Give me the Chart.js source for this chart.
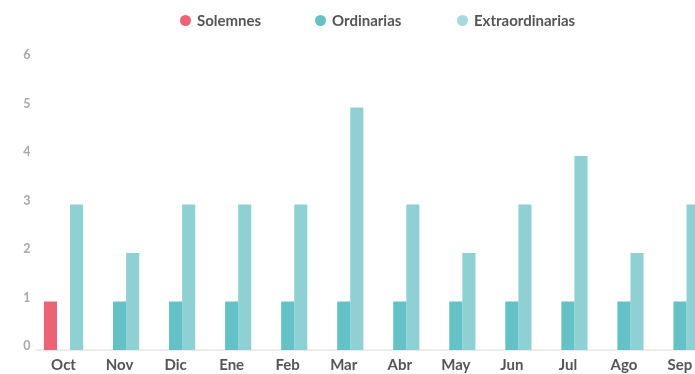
<!DOCTYPE html>
<html>
<head>
<meta charset="utf-8">
<script src="https://cdn.jsdelivr.net/npm/chart.js@4/dist/chart.umd.min.js"></script>
<style>
	html, body {
		margin: 0;
		padding: 0;
		width: 695px;
		height: 374px;
		overflow: hidden;
		background: #fff;
		font-family: Lato, "Open Sans", sans-serif;
	}
	#wrap {
		position: relative;
		width: 708px;
		height: 374px;
	}
	#myChart {
		display: block;
	}
	#legend {
		position: absolute;
		top: 10px;
		left: 180px;
		display: flex;
		height: 20px;
		align-items: center;
		font-size: 15px;
		font-weight: 700;
		color: #555;
	}
	#legend .item {
		display: flex;
		align-items: center;
	}
	#legend .dot {
		width: 11px;
		height: 11px;
		border-radius: 50%;
		margin-right: 6px;
	}
</style>
</head>
<body>
<div id="wrap">
	<canvas id="myChart" width="708" height="374"></canvas>
	<div id="legend"></div>
</div>
<script>
const months = ["Oct", "Nov", "Dic", "Ene", "Feb", "Mar", "Abr", "May", "Jun", "Jul", "Ago", "Sep"];

const solemnes = [1, 0, 0, 0, 0, 0, 0, 0, 0, 0, 0, 0];
const ordinarias = [0, 1, 1, 1, 1, 1, 1, 1, 1, 1, 1, 1];
const extraordinarias = [3, 2, 3, 3, 3, 5, 3, 2, 3, 4, 2, 3];

const yTicks = [0, 1, 2, 3, 4, 5, 6];

const seriesNames = ["Solemnes", "Ordinarias", "Extraordinarias"];
const seriesColors = ["#ed6375", "#64c1c6", "#8fd0d5"];
const legendColors = ["#ed6375", "#64c1c6", "#a6dade"];
// widths of each legend entry so the dots line up
const legendWidths = [135, 142, 140];

function buildLegend() {
	const box = document.getElementById("legend");
	seriesNames.forEach((name, i) => {
		const item = document.createElement("div");
		item.className = "item";
		item.style.width = legendWidths[i] + "px";
		const dot = document.createElement("span");
		dot.className = "dot";
		dot.style.background = legendColors[i];
		const label = document.createElement("span");
		label.textContent = name;
		item.appendChild(dot);
		item.appendChild(label);
		box.appendChild(item);
	});
}

function renderChart() {
	const ctx = document.getElementById("myChart").getContext("2d");
	const values = [solemnes, ordinarias, extraordinarias];

	new Chart(ctx, {
		type: "bar",
		data: {
			labels: months,
			datasets: values.map((data, i) => ({
				label: seriesNames[i],
				data: data,
				backgroundColor: seriesColors[i],
				borderWidth: 0,
				barPercentage: 1,
				categoryPercentage: 0.7,
			})),
		},
		options: {
			responsive: false,
			animation: false,
			layout: {
				padding: {
					top: 59,
					left: 0,
					right: 0,
					bottom: 0,
				},
			},
			scales: {
				x: {
					afterFit: (scale) => {
						scale.height = 24;
					},
					grid: {
						display: false,
						drawTicks: false,
					},
					border: {
						display: true,
						color: "#ececec",
						width: 2,
					},
					ticks: {
						padding: 6,
						color: "#555",
						font: {
							family: "Lato",
							size: 15,
							weight: "bold",
						},
					},
				},
				y: {
					min: yTicks[0],
					max: yTicks[yTicks.length - 1],
					afterFit: (scale) => {
						scale.width = 35.5;
					},
					afterBuildTicks: (scale) => {
						scale.ticks = yTicks.map((v) => ({ value: v }));
					},
					grid: {
						display: false,
						drawTicks: false,
					},
					border: {
						display: false,
					},
					ticks: {
						padding: 5,
						labelOffset: -4,
						color: "#a8a8a8",
						font: {
							family: "Lato",
							size: 12.5,
							weight: "bold",
						},
					},
				},
			},
			plugins: {
				legend: {
					display: false,
				},
				tooltip: {
					enabled: false,
				},
			},
		},
	});
}

buildLegend();
renderChart();
</script>
</body>
</html>
